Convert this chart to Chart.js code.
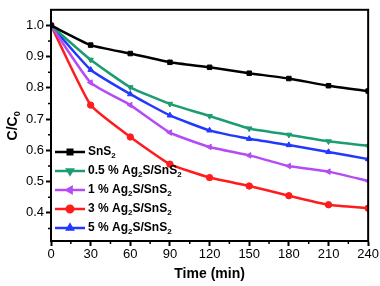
<!DOCTYPE html>
<html>
<head>
<meta charset="utf-8">
<script src="https://cdn.jsdelivr.net/npm/chart.js@4"></script>
<style>
  html, body { margin: 0; padding: 0; background: #fff; }
  #wrap { width: 380px; height: 286px; }
</style>
</head>
<body>
<div id="wrap"><canvas id="chart" width="380" height="286"></canvas></div>
<script>
// time points (min)
const times = [0, 30, 60, 90, 120, 150, 180, 210, 240];
// C/C0 for each sample
const sns2   = [1.0, 0.937, 0.910, 0.882, 0.866, 0.847, 0.830, 0.807, 0.790];
const ag05   = [1.0, 0.890, 0.802, 0.749, 0.710, 0.670, 0.650, 0.629, 0.614];
const ag1    = [1.0, 0.817, 0.745, 0.657, 0.611, 0.584, 0.550, 0.532, 0.502];
const ag3    = [1.0, 0.745, 0.643, 0.556, 0.513, 0.486, 0.455, 0.426, 0.415];
const ag5    = [1.0, 0.858, 0.780, 0.712, 0.664, 0.637, 0.617, 0.595, 0.572];
const xTicks = [0, 30, 60, 90, 120, 150, 180, 210, 240];
const yTicks = [0.4, 0.5, 0.6, 0.7, 0.8, 0.9, 1.0];
// labels: "_2" = subscript
const labels = ['SnS_2', '0.5 % Ag_2S/SnS_2', '1 % Ag_2S/SnS_2', '3 % Ag_2S/SnS_2', '5 % Ag_2S/SnS_2'];

const FONT = '"Liberation Sans", Arial, sans-serif';

function series(vals) {
  return vals.map((v, i) => ({ x: times[i], y: v }));
}

function makeSet(i, vals, color, style, rot) {
  return {
    label: labels[i],
    data: series(vals),
    borderColor: color,
    backgroundColor: color,
    borderWidth: 2.5,
    pointStyle: style,
    rotation: rot,
    pointRadius: 3.2,
    pointBorderWidth: 1,
    tension: 0.15
  };
}

// draw text with "_d" subscripts
function drawRich(ctx, text, x, y, size, bold) {
  const w = bold ? 'bold ' : '';
  const parts = text.split(/(_\d)/);
  let cx = x;
  parts.forEach(p => {
    if (!p) return;
    if (p[0] === '_') {
      ctx.font = w + Math.round(size * 0.65) + 'px ' + FONT;
      ctx.fillText(p.slice(1), cx, y + size * 0.3);
      cx += ctx.measureText(p.slice(1)).width;
    } else {
      ctx.font = w + size + 'px ' + FONT;
      ctx.fillText(p, cx, y);
      cx += ctx.measureText(p).width;
    }
  });
}

const decor = {
  id: 'decor',
  afterDraw(chart) {
    const ctx = chart.ctx;
    const a = chart.chartArea;
    const xs = chart.scales.x, ys = chart.scales.y;
    ctx.save();
    ctx.strokeStyle = '#000';
    ctx.fillStyle = '#000';
    // frame
    ctx.lineWidth = 2;
    ctx.strokeRect(a.left, a.top, a.right - a.left, a.bottom - a.top);
    // minor ticks
    ctx.lineWidth = 1.5;
    for (let t = 15; t < 240; t += 30) {
      const px = xs.getPixelForValue(t);
      ctx.beginPath(); ctx.moveTo(px, a.bottom); ctx.lineTo(px, a.bottom + 3); ctx.stroke();
    }
    for (let v = 0.35; v < 1.04; v += 0.1) {
      const py = ys.getPixelForValue(v);
      ctx.beginPath(); ctx.moveTo(a.left, py); ctx.lineTo(a.left - 3, py); ctx.stroke();
    }
    // axis titles
    ctx.textBaseline = 'middle';
    ctx.textAlign = 'center';
    ctx.font = 'bold 14px ' + FONT;
    ctx.fillText('Time (min)', (a.left + a.right) / 2, 274);
    ctx.save();
    ctx.translate(13, (a.top + a.bottom) / 2);
    ctx.rotate(-Math.PI / 2);
    ctx.textAlign = 'left';
    ctx.font = 'bold 14px ' + FONT;
    const w = ctx.measureText('C/C').width + 6;
    drawRich(ctx, 'C/C_0', -w / 2, 0, 14, true);
    ctx.restore();
    // legend
    ctx.textAlign = 'left';
    chart.data.datasets.forEach((ds, i) => {
      const y = 152 + i * 19;
      ctx.strokeStyle = ds.borderColor;
      ctx.fillStyle = ds.borderColor;
      ctx.lineWidth = 2.5;
      ctx.beginPath(); ctx.moveTo(55, y); ctx.lineTo(85, y); ctx.stroke();
      Chart.helpers.drawPoint(ctx, { pointStyle: ds.pointStyle, rotation: ds.rotation, radius: 3.2, borderWidth: 1 }, 70, y);
      ctx.fillStyle = '#000';
      drawRich(ctx, ds.label, 88, y, 12, true);
    });
    ctx.restore();
  }
};

new Chart(document.getElementById('chart'), {
  type: 'line',
  data: {
    datasets: [
      makeSet(0, sns2, '#000000', 'rect', 0),
      makeSet(1, ag05, '#1c9c72', 'triangle', 180),
      makeSet(2, ag1, '#b44cf5', 'triangle', -90),
      makeSet(3, ag3, '#ff1c1c', 'circle', 0),
      makeSet(4, ag5, '#2238ff', 'triangle', 0)
    ]
  },
  options: {
    responsive: false,
    animation: false,
    layout: { padding: { top: 3, right: 11, left: 0, bottom: 0 } },
    plugins: { legend: { display: false }, tooltip: { enabled: false } },
    scales: {
      x: {
        type: 'linear',
        min: 0,
        max: 240,
        afterBuildTicks: s => { s.ticks = xTicks.map(v => ({ value: v })); },
        afterFit: s => { s.height = 45; },
        grid: { drawOnChartArea: false, tickLength: 5, tickWidth: 2, color: '#000' },
        border: { color: '#000', width: 2 },
        ticks: { color: '#000', font: { family: FONT, size: 13 }, padding: 1, maxRotation: 0 }
      },
      y: {
        type: 'linear',
        min: 0.31,
        max: 1.05,
        afterBuildTicks: s => { s.ticks = yTicks.map(v => ({ value: v })); },
        afterFit: s => { s.width = 51; },
        grid: { drawOnChartArea: false, tickLength: 5, tickWidth: 2, color: '#000' },
        border: { color: '#000', width: 2 },
        ticks: { color: '#000', font: { family: FONT, size: 13 }, padding: 2, callback: v => v.toFixed(1) }
      }
    }
  },
  plugins: [decor]
});
</script>
</body>
</html>
